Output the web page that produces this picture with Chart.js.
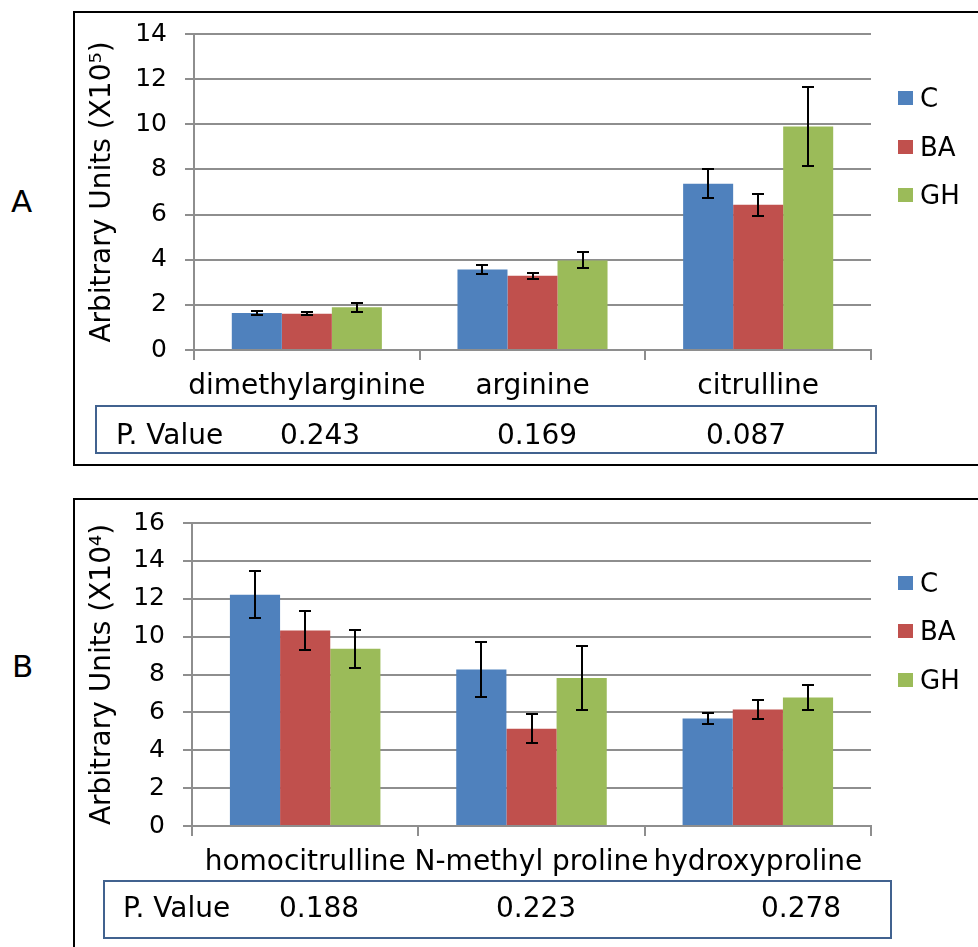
<!DOCTYPE html>
<html>
<head>
<meta charset="utf-8">
<script src="https://cdn.jsdelivr.net/npm/chart.js@4.4.1/dist/chart.umd.min.js"></script>
<style>
  html, body { margin: 0; padding: 0; background: #fff; }
  body { width: 978px; height: 947px; position: relative; overflow: hidden;
         font-family: "DejaVu Sans", Verdana, sans-serif; color: #000; }
  .frame { position: absolute; box-sizing: border-box; border: 2px solid #000; }
  .pbox { position: absolute; box-sizing: border-box; border: 2px solid #41628f; }
  .txt { position: absolute; white-space: nowrap; font-size: 28px; line-height: 28px; }
  .panel-letter { position: absolute; font-size: 31px; line-height: 31px; }
  .legend-item { position: absolute; left: 898px; height: 26px; }
  .legend-item i { position: absolute; left: 0; top: 6px; width: 15px; height: 14px; }
  .legend-item span { position: absolute; left: 22px; top: 0; font-size: 26px; line-height: 26px; }
  canvas { position: absolute; left: 0; }
</style>
</head>
<body>
<div class="frame" style="left:73px; top:11px; width:1000px; height:455px;"></div>
<div class="frame" style="left:73px; top:498px; width:1000px; height:500px;"></div>

<div class="panel-letter" style="left:11px; top:186px;">A</div>
<div class="panel-letter" style="left:12px; top:651px;">B</div>

<canvas id="chartA" width="978" height="470" style="top:0;"></canvas>
<canvas id="chartB" width="978" height="472" style="top:475px;"></canvas>

<div class="pbox" style="left:95px; top:405px; width:782px; height:49px;"></div>
<div class="pbox" style="left:103px; top:880px; width:789px; height:59px;"></div>

<div id="overlay"></div>

<script>
// Treatment groups shared by both panels
const groups = ['C', 'BA', 'GH'];
const groupColors = ['#4F81BD', '#C0504D', '#9BBB59'];

// Panel A: amino acids, arbitrary units x10^5
const categoriesA = ['dimethylarginine', 'arginine', 'citrulline'];
const meanC_A  = [1.64, 3.57, 7.37];
const meanBA_A = [1.61, 3.29, 6.43];
const meanGH_A = [1.89, 3.97, 9.90];
const errC_A   = [0.10, 0.21, 0.64];
const errBA_A  = [0.08, 0.13, 0.49];
const errGH_A  = [0.20, 0.35, 1.74];
const pValuesA = ['0.243', '0.169', '0.087'];
const yMaxA = 14;
const titleA = 'Arbitrary Units (X10\u2075)';

// Panel B: amino acids, arbitrary units x10^4
const categoriesB = ['homocitrulline', 'N-methyl proline', 'hydroxyproline'];
const meanC_B  = [12.21, 8.27, 5.68];
const meanBA_B = [10.33, 5.14, 6.15];
const meanGH_B = [9.36, 7.81, 6.78];
const errC_B   = [1.25, 1.46, 0.27];
const errBA_B  = [1.04, 0.78, 0.49];
const errGH_B  = [1.00, 1.70, 0.65];
const pValuesB = ['0.188', '0.223', '0.278'];
const yMaxB = 16;
const titleB = 'Arbitrary Units (X10\u2074)';

const yStep = 2;
const FONT = '"DejaVu Sans", Verdana, sans-serif';
const GRID = '#8e8e8e';

Chart.defaults.font.family = FONT;
Chart.defaults.color = '#000';

// Draws +/- error bars on every bar, using the bar's own x and the value scale
const errorBars = {
  id: 'errorBars',
  afterDatasetsDraw(chart) {
    const ctx = chart.ctx;
    const ys = chart.scales.y;
    ctx.save();
    ctx.strokeStyle = '#000';
    ctx.lineWidth = 2;
    chart.data.datasets.forEach((ds, di) => {
      const meta = chart.getDatasetMeta(di);
      meta.data.forEach((bar, i) => {
        const v = ds.data[i], e = ds.errors[i];
        const yTop = Math.round(ys.getPixelForValue(v + e));
        const yBot = Math.round(ys.getPixelForValue(v - e));
        const x = Math.round(bar.x);
        const cap = 6;
        ctx.beginPath();
        ctx.moveTo(x, yTop); ctx.lineTo(x, yBot);
        ctx.moveTo(x - cap, yTop); ctx.lineTo(x + cap, yTop);
        ctx.moveTo(x - cap, yBot); ctx.lineTo(x + cap, yBot);
        ctx.stroke();
      });
    });
    ctx.restore();
  }
};

function buildChart(id, cats, means, errs, yMax, title, opts) {
  const datasets = groups.map((g, k) => ({
    label: g,
    data: means[k],
    errors: errs[k],
    backgroundColor: groupColors[k],
    borderWidth: 0,
    barPercentage: 1.0,
    categoryPercentage: 0.665
  }));
  return new Chart(document.getElementById(id), {
    type: 'bar',
    data: { labels: cats, datasets },
    plugins: [errorBars],
    options: {
      responsive: false,
      animation: false,
      devicePixelRatio: 1,
      layout: { padding: opts.padding },
      plugins: { legend: { display: false }, tooltip: { enabled: false } },
      scales: {
        x: {
          border: { color: GRID, width: 2 },
          grid: { display: true, drawOnChartArea: false, drawTicks: true,
                  tickLength: 10, color: GRID, lineWidth: 2, offset: true },
          ticks: { font: { size: 28 }, color: '#000', padding: 10,
                   maxRotation: 0, autoSkip: false },
          afterFit(scale) { scale.height = 60; }
        },
        y: {
          min: 0, max: yMax,
          border: { color: GRID, width: 2 },
          grid: { color: GRID, lineWidth: 2, tickLength: 9 },
          ticks: { stepSize: yStep, font: { size: 25 }, color: '#000', padding: 18 },
          title: { display: true, text: title, color: '#000',
                   font: { size: 28 }, padding: { top: opts.titleOffset, bottom: 0 } },
          afterFit(scale) { scale.width = opts.axisWidth; }
        }
      }
    }
  });
}

buildChart('chartA', categoriesA,
  [meanC_A, meanBA_A, meanGH_A], [errC_A, errBA_A, errGH_A], yMaxA, titleA,
  { padding: { top: 34, right: 107, bottom: 60, left: 0 }, axisWidth: 194, titleOffset: 86 });

buildChart('chartB', categoriesB,
  [meanC_B, meanBA_B, meanGH_B], [errC_B, errBA_B, errGH_B], yMaxB, titleB,
  { padding: { top: 48, right: 107, bottom: 61, left: 0 }, axisWidth: 192, titleOffset: 86 });

// Legends and P-value rows
const overlay = document.getElementById('overlay');
function addLegend(centers) {
  groups.forEach((g, k) => {
    const d = document.createElement('div');
    d.className = 'legend-item';
    d.style.top = (centers[k] - 13) + 'px';
    d.innerHTML = '<i style="background:' + groupColors[k] + '"></i><span>' + g + '</span>';
    overlay.appendChild(d);
  });
}
addLegend([98, 147, 195]);
addLegend([583, 631, 680]);

function addPRow(top, labelLeft, values, lefts) {
  const lab = document.createElement('div');
  lab.className = 'txt';
  lab.style.left = labelLeft + 'px';
  lab.style.top = top + 'px';
  lab.textContent = 'P. Value';
  overlay.appendChild(lab);
  values.forEach((v, i) => {
    const s = document.createElement('div');
    s.className = 'txt';
    s.style.left = lefts[i] + 'px';
    s.style.top = top + 'px';
    s.textContent = v;
    overlay.appendChild(s);
  });
}
addPRow(421, 116, pValuesA, [280, 497, 706]);
addPRow(894, 123, pValuesB, [279, 496, 761]);
</script>
</body>
</html>
